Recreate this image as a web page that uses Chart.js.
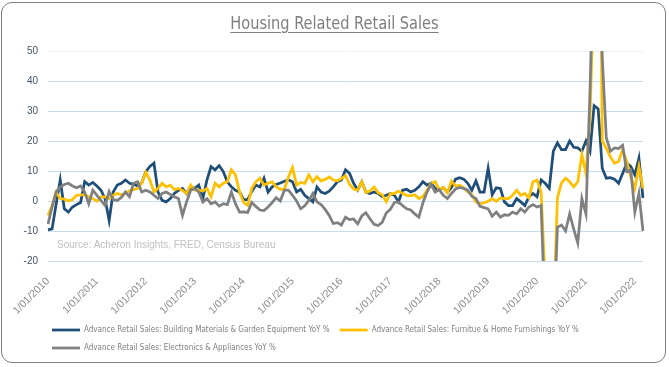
<!DOCTYPE html>
<html>
<head>
<meta charset="utf-8">
<script src="https://cdn.jsdelivr.net/npm/chart.js@4.4.1/dist/chart.umd.min.js"></script>
<style>
  html, body { margin: 0; padding: 0; background: #fff; }
  #wrap { position: relative; width: 669px; height: 367px; overflow: hidden; }
  #frame {
    position: absolute; left: 1px; top: 2px; width: 665px; height: 361px;
    box-sizing: border-box; border: 1px solid #7f7f7f; border-radius: 11px;
    pointer-events: none;
  }
  #title {
    position: absolute; left: 0; top: 13px; width: 669px; text-align: center;
    font: 18px/20px "Liberation Sans Narrow", "DejaVu Sans Condensed", sans-serif;
    color: #7f7f7f; text-decoration: underline; text-underline-offset: 3px;
    transform: scaleX(0.9);
  }
  #source {
    position: absolute; left: 57px; top: 239px;
    font: 10px/12px "Liberation Sans", Arial, sans-serif; color: #c0c0c0;
  }
  canvas { position: absolute; left: 0; top: 0; }
</style>
</head>
<body>
<div id="wrap">
  <canvas id="chart" width="669" height="367"></canvas>
  <div id="title">Housing Related Retail Sales</div>
  <div id="source">Source: Acheron Insights, FRED, Census Bureau</div>
  <div id="frame"></div>
</div>
<script>
// Monthly YoY %, Jan 2010 - Mar 2022 (one row per year)
const buildingMaterials = [
  -9.6, -9.3, -1, 7, -2.6, -3.7, -2, -1.2, -0.5, 6.5, 5.3, 6.2,
  5, 3.6, 0.8, -6.5, 3, 5.3, 5.9, 7, 5.9, 5.6, 5, 6,
  9.8, 11.5, 12.6, 3, 0.2, -0.3, 0.8, 2.5, 3.5, 4.2, 2.5, 4.7,
  4.2, 5.3, 0.8, 7, 11.5, 10.4, 11.8, 9.8, 6.4, 4.7, 3.6, 3,
  0.5, 0.5, 3.2, 5.3, 4.7, 7.6, 3, 4.7, 5.5, 6, 6.6, 7,
  6.4, 3, 3.9, 1.9, 0.8, -0.3, 4.7, 3, 2.5, 3.3, 4.7, 6.4,
  7, 10.4, 9.2, 5.9, 3.6, 6.4, 3, 2.5, 3, 2.5, 1.4, 1.9,
  2.5, 1.9, -0.3, 3.6, 3.9, 3, 3.6, 4.7, 6.4, 5.3, 5.9, 4.2,
  3.6, 4.5, 2.9, 4.5, 7.3, 7.8, 7.3, 5.9, 3.6, 6.7, 3, 3,
  10.9, 2.1, 4.4, 4.2, -0.3, -1.5, -1.5, 0.8, -0.3, -1.5, 1.4, 2.5,
  1.4, 7, 5.9, 4.2, 16.6, 19.4, 17.1, 17.1, 20, 17.9, 17.7, 16.6,
  20, 16.6, 31.8, 30.7, 10.9, 7.6, 7.8, 7.3, 5.9, 9.2, 12.6, 11.5,
  8.7, 14.3, 1
];

const furniture = [
  -4.8, -1.5, 3, 0.8, 0.6, 0, 0.5, 1.9, 2, 2.1, 1.4, 0.8,
  -0.1, 1.4, 1.4, 0.8, 1.9, 2.5, 2.1, 2.5, 3.4, 3.8, 4.2, 5.9,
  9.6, 7, 3, 4.2, 5.9, 4.7, 5.3, 3.8, 4.2, 3.5, 2.5, 5.3,
  3.6, 3.6, 3.3, 4.2, 1.4, 5.9, 4.7, 5.9, 6.4, 10.4, 8.7, 3,
  -0.5, -1.5, 4.2, 6.4, 7.6, 5.3, 5.9, 6.4, 4.7, 3.9, 3.9, 8,
  11.2, 5.3, 6.2, 5.9, 8.7, 6.4, 8.1, 6.7, 7.2, 8, 7, 6.7,
  7.5, 8.5, 5.5, 4, 3.6, 6.4, 2.8, 3.3, 4.7, 2.8, 2.1, -0.3,
  2.5, 2.5, 3.3, 2.5, 1.9, 1.7, 2.1, 0.8, 1.5, 3.6, 5.9, 6.4,
  3.8, 4.5, 2.8, 6.6, 5, 5.3, 4.4, 3, 2.1, -0.3, -0.9, -0.6,
  -0.1, 0.8, -0.1, 1, 0.8, 0.8, 1.9, 3.6, 1.9, 2.5, 1, 6.4,
  7, 3, -27, -66, -40, 1, 6, 7.6, 6.4, 4.7, 6.4, 15.4,
  9.2, 28, 75, 180, 20, 17.5, 14.7, 12.6, 13.2, 17.1, 13.2, 8,
  4.2, 11.5, 4.2
];

const electronics = [
  -7.7, -2, 3, 4.7, 5.5, 5.9, 5, 4.4, 5, 3, -0.9, 3.6,
  1.9, 0.2, -1.5, 3.2, 0.5, 0.2, 1.2, 3, 1.4, 5.9, 6.4, 3,
  3.6, 3, 1.9, 0.8, 2.5, 3, 2.2, 1.4, 0.8, -4.8, -0.3, 3.6,
  4.2, 3, -0.3, 0.8, -0.9, -0.3, -1.7, -0.9, -1.2, 3, -0.9, -3.7,
  -3.6, -3.8, -0.5, -1.8, -3, -3.2, -2, -0.5, 1.1, 0, 3.6, 3.6,
  1.9, 0, -2.6, -1.6, 0.2, 2.5, -0.3, -1.2, -2.8, -4.8, -7.5, -7.2,
  -8, -5.4, -6.2, -6, -7.6, -5, -3.9, -5.9, -7.8, -8.2, -7.1, -4,
  -2.8, -0.5, -0.3, -1.5, -2.6, -3, -4.3, -5.4, -0.6, 3, 5.5, 3,
  3.8, 1.9, 0.8, 2.5, 4, 4.5, 4.2, 3.6, 1.6, 0.8, -1.8, -2.2,
  -2.6, -5.1, -3.7, -5.4, -4.6, -4.8, -3.7, -4.3, -2.6, -3.7, -2, -1.2,
  -2, -1.5, -40, -62, -45, -8.8, -8, -10, -4.3, -9.4, -14, 0.8,
  -4.3, 37, 90, 110, 48, 21, 16.6, 17.7, 17.5, 18.6, 9.8, 10.3,
  -3.7, 2.5, -10
];

const seriesNames = [
  'Advance Retail Sales: Building Materials & Garden Equipment YoY %',
  'Advance Retail Sales: Furnitue & Home Furnishings YoY %',
  'Advance Retail Sales: Electronics & Appliances YoY %'
];
const seriesColors = ['#1f4e79', '#ffc000', '#808080'];

const startYear = 2010;

// Category labels, one per month, d/mm/yyyy
const months = [];
for (let i = 0; i < buildingMaterials.length; i++) {
  const mm = String(i % 12 + 1).padStart(2, '0');
  months.push('1/' + mm + '/' + (startYear + Math.floor(i / 12)));
}

const narrow = '"Liberation Sans Narrow", "DejaVu Sans Condensed", sans-serif';

// Nudge the legend so the first swatch lines up with the plot's left edge
const legendShift = {
  id: 'legendShift',
  afterLayout(chart) {
    chart.legend.left = chart.chartArea.left - 6;
  }
};

function makeSet(i, data, order) {
  return {
    label: seriesNames[i],
    data: data,
    borderColor: seriesColors[i],
    backgroundColor: seriesColors[i],
    borderWidth: 2.75,
    pointRadius: 0,
    pointStyle: 'line',
    tension: 0,
    order: order
  };
}

new Chart(document.getElementById('chart'), {
  type: 'line',
  data: {
    labels: months,
    datasets: [
      makeSet(0, buildingMaterials, 3),
      makeSet(1, furniture, 2),
      makeSet(2, electronics, 1)
    ]
  },
  options: {
    responsive: false,
    animation: false,
    layout: { padding: { top: 51, left: 18, right: 26, bottom: 5 } },
    scales: {
      x: {
        grid: { display: false },
        border: { display: false },
        afterFit: (scale) => { scale.height = 55; },
        ticks: {
          autoSkip: false,
          minRotation: 45,
          maxRotation: 45,
          padding: 6,
          color: '#8c8c8c',
          font: { family: '"Liberation Sans", Arial, sans-serif', size: 10.5 },
          callback: function (v, i) {
            return i % 12 === 0 ? months[i] : '';
          }
        }
      },
      y: {
        min: -20,
        max: 50,
        border: { display: false },
        afterFit: (scale) => { scale.width = 30; },
        grid: {
          drawTicks: false,
          color: (c) => c.tick && c.tick.value === 50 ? '#eef3f9' : '#c9dcef'
        },
        ticks: {
          stepSize: 10,
          padding: 10,
          color: '#44546a',
          font: { family: '"Liberation Sans", Arial, sans-serif', size: 10 }
        }
      }
    },
    plugins: {
      title: { display: false },
      tooltip: { enabled: false },
      legend: {
        position: 'bottom',
        align: 'start',
        fullSize: false,
        labels: {
          usePointStyle: true,
          pointStyleWidth: 28,
          padding: 10,
          color: '#7f7f7f',
          font: { family: narrow, size: 8 },
          sort: (a, b) => a.datasetIndex - b.datasetIndex
        }
      }
    }
  },
  plugins: [legendShift]
});
</script>
</body>
</html>
